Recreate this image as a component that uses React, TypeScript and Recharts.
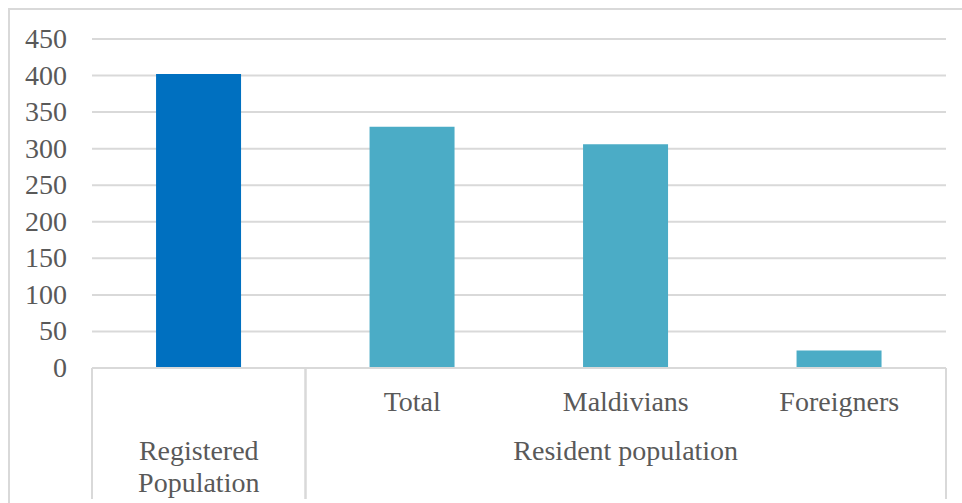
import { BarChart, Bar, XAxis, YAxis, CartesianGrid, Cell } from "recharts";

const innerLabels = ["", "Total", "Maldivians", "Foreigners"];
const groupLabels = ["Registered Population", "Resident population"];
const groupOf = [0, 1, 1, 1];
const values = [402, 330, 306, 24];
const barColors = ["#0070C0", "#4BACC6", "#4BACC6", "#4BACC6"];
const yTicks = [0, 50, 100, 150, 200, 250, 300, 350, 400, 450];

const data = innerLabels.map((label, i) => ({
  key: `c${i}`,
  label,
  group: groupOf[i],
  value: values[i],
  color: barColors[i]
}));

const WIDTH = 952;
const HEIGHT = 493;
const MARGIN = { top: 29, right: 16, left: 0, bottom: 0 };
const Y_AXIS_WIDTH = 82;
const X_AXIS_HEIGHT = 135;
const BAND = (WIDTH - MARGIN.left - MARGIN.right - Y_AXIS_WIDTH) / data.length;

const TEXT = "#595959";
const LINE = "#d9d9d9";
const FONT = "'Liberation Serif', 'Times New Roman', serif";

const ValueTick = (props: any) => {
  const { x, y, payload } = props;
  return (
    <text
      x={x}
      y={y + 9}
      textAnchor="end"
      fill={TEXT}
      fontSize={28}
      style={{ fontFamily: "Liberation Serif", fontVariantNumeric: "normal" }}
    >
      {String(payload.value)}
    </text>
  );
};

const CategoryTick = (props: any) => {
  const { x, y, index } = props;
  const d = data[index];
  const g = d.group;
  const first = index === 0 || data[index - 1].group !== g;
  const last = index === data.length - 1 || data[index + 1].group !== g;
  const span = data.filter((c) => c.group === g).length;
  const left = x - BAND / 2;
  const groupCenter = left + (span * BAND) / 2;
  const groupLines = span === 1 ? groupLabels[g].split(" ") : [groupLabels[g]];

  return (
    <g>
      {d.label && (
        <text x={x} y={y + 43} textAnchor="middle" fill={TEXT} fontSize={28} fontFamily={FONT}>
          {d.label}
        </text>
      )}
      {first && <line x1={left} x2={left} y1={y} y2={y + 131} stroke={LINE} strokeWidth={2} />}
      {last && (
        <line x1={x + BAND / 2} x2={x + BAND / 2} y1={y} y2={y + 131} stroke={LINE} strokeWidth={2} />
      )}
      {first &&
        groupLines.map((t, k) => (
          <text
            key={k}
            x={groupCenter}
            y={y + 92 + k * 32}
            textAnchor="middle"
            fill={TEXT}
            fontSize={28}
            fontFamily={FONT}
          >
            {t}
          </text>
        ))}
    </g>
  );
};

export default function App() {
  return (
    <>
      <style>{`body{margin:0;overflow:hidden;background:#fff}`}</style>
      <div
        style={{
          position: "absolute",
          left: 8,
          top: 8,
          width: WIDTH,
          height: HEIGHT,
          fontFamily: FONT,
          borderLeft: `2px solid ${LINE}`,
          borderTop: `2px solid ${LINE}`
        }}
      >
        <BarChart width={WIDTH} height={HEIGHT} data={data} margin={MARGIN} barCategoryGap="30%">
          <CartesianGrid vertical={false} stroke={LINE} strokeWidth={2} />
          <XAxis
            dataKey="key"
            interval={0}
            height={X_AXIS_HEIGHT}
            tickLine={false}
            tickSize={0}
            tickMargin={0}
            axisLine={{ stroke: LINE, strokeWidth: 2 }}
            tick={<CategoryTick />}
          />
          <YAxis
            width={Y_AXIS_WIDTH}
            domain={[0, 450]}
            ticks={yTicks}
            interval={0}
            axisLine={false}
            tickLine={false}
            tickSize={0}
            tickMargin={25}
            tick={<ValueTick />}
          />
          <Bar dataKey="value" isAnimationActive={false}>
            {data.map((d) => (
              <Cell key={d.key} fill={d.color} />
            ))}
          </Bar>
        </BarChart>
      </div>
    </>
  );
}
